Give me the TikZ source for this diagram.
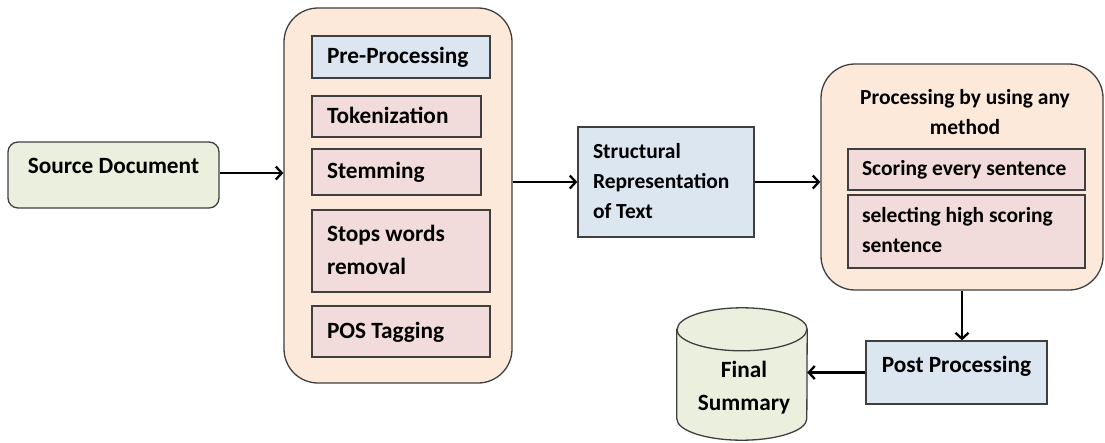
\documentclass[tikz,border=0pt]{standalone}
\usepackage{fontspec}
\setmainfont{Carlito}
\usetikzlibrary{arrows.meta}
\definecolor{srcgreen}{HTML}{EBF0DE}
\definecolor{peach}{HTML}{FDE9D9}
\definecolor{lblue}{HTML}{DCE6F1}
\definecolor{lpink}{HTML}{F2DCDB}
\definecolor{edge}{HTML}{3F3F3F}
\tikzset{
  txt/.style={font=\fontsize{23.3}{33}\selectfont\bfseries, text=black},
  smalltxt/.style={font=\fontsize{21.5}{30}\selectfont\bfseries},
  boxbase/.style={txt, draw=edge, line width=1.3pt, inner xsep=15pt, inner ysep=0pt,
    align=flush left, execute at begin node=\strut, execute at end node=\strut},
  bluebox/.style={boxbase, fill=lblue},
  pinkbox/.style={boxbase, fill=lpink},
  container/.style={draw=edge, line width=1.3pt, fill=peach, rounded corners=34pt, inner sep=0pt},
  arr/.style={line width=2.3pt, -{Straight Barb[length=6pt,width=13pt]}}
}
\begin{document}
\begin{tikzpicture}[x=1pt,y=-1pt]
\useasboundingbox (0,0) rectangle (1105,442);

% source document
\node[txt, draw=edge, line width=1.3pt, fill=srcgreen, rounded corners=10pt,
  minimum width=211pt, minimum height=66pt, inner sep=0pt,
  text height=16pt, text depth=20pt] (src) at (113.5,175) {Source Document};

% pre-processing stage
\node[container, minimum width=228pt, minimum height=375pt] (lc) at (398,195.5) {};
\node[bluebox, text width=148pt, minimum height=42pt] (pre) at (401,57) {Pre-Processing};
\node[pinkbox, text width=139pt, minimum height=41pt] (tok) at (396.5,116.5) {Tokenization};
\node[pinkbox, text width=139pt, minimum height=46pt] (stem) at (396.5,172) {Stemming};
\node[pinkbox, text width=148pt, minimum height=82pt] (stop) at (401,251) {Stops words\\removal};
\node[pinkbox, text width=148pt, minimum height=51pt] (pos) at (401,331.5) {POS Tagging};

% structural representation
\node[bluebox, smalltxt, text width=146pt, minimum height=110pt] (struct) at (666,182)
  {Structural\\Representation\\of Text};

% sentence processing stage
\node[container, minimum width=282pt, minimum height=226pt] (rc) at (962,177) {};
\node[txt, smalltxt, align=center, inner sep=0pt] (title) at (965,112.5) {Processing by using any\\method};
\node[pinkbox, smalltxt, inner xsep=14pt, text width=209pt, minimum height=41pt] (score) at (966.5,169.5)
  {Scoring every sentence};
\node[pinkbox, smalltxt, inner xsep=14pt, text width=209pt, minimum height=73pt] (sel) at (966.5,231.5)
  {selecting high scoring\\sentence};

% post processing
\node[txt, draw=edge, line width=1.3pt, fill=lblue, minimum width=181pt, minimum height=63pt,
  inner sep=0pt, text height=16pt, text depth=17pt] (post) at (956.5,372.5) {Post Processing};

% final summary cylinder
\node[minimum width=130pt, minimum height=132pt, inner sep=0pt] (sum) at (742,374) {};
\filldraw[draw=edge, line width=1.3pt, fill=srcgreen]
  ([yshift=-21.5pt]sum.north west) -- ([yshift=21.5pt]sum.south west)
  arc[start angle=180, end angle=360, x radius=65pt, y radius=21.5pt]
  -- ([yshift=-21.5pt]sum.north east)
  arc[start angle=0, end angle=180, x radius=65pt, y radius=21.5pt] -- cycle;
\draw[draw=edge, line width=1.3pt] ([yshift=-21.5pt]sum.north west)
  arc[start angle=180, end angle=360, x radius=65pt, y radius=21.5pt];
\node[txt, align=center, inner sep=0pt] (sumtxt) at (744,388) {Final\\Summary};

% connectors
\draw[arr] ([yshift=2pt]src.east) -- ([yshift=2pt]src.east -| lc.west);
\draw[arr] (struct.west -| lc.east) -- (struct.west);
\draw[arr] (struct.east) -- (struct.east -| rc.west);
\draw[arr] (rc.south) -- (rc.south |- post.north);
\draw[arr] (post.west) -- (post.west -| sum.east);
\end{tikzpicture}
\end{document}
